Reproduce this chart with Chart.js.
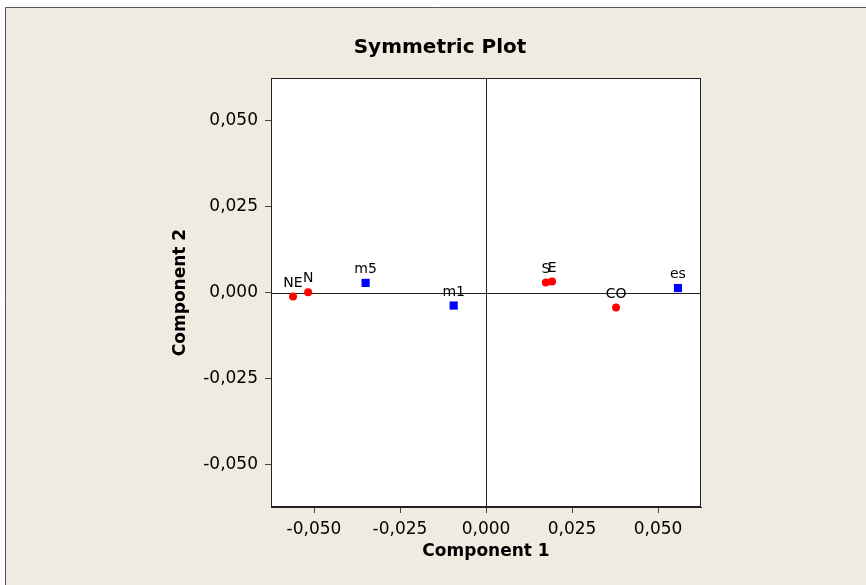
<!DOCTYPE html>
<html>
<head>
<meta charset="utf-8">
<script src="https://cdn.jsdelivr.net/npm/chart.js@4.4.1/dist/chart.umd.min.js"></script>
<style>
  html, body { margin: 0; padding: 0; background: #fff; }
  #wrap { width: 866px; height: 585px; }
</style>
</head>
<body>
<div id="wrap"><canvas id="plot" width="866" height="585"></canvas></div>
<script>
// row points (red dots)
const rowLabels = ['NE', 'N', 'S', 'E', 'CO'];
const rowX = [-0.0561, -0.0517, 0.0174, 0.0192, 0.0378];
const rowY = [-0.0012, 0.0001, 0.0029, 0.0032, -0.0044];

// column points (blue squares)
const colLabels = ['m5', 'm1', 'es'];
const colX = [-0.0350, -0.0094, 0.0558];
const colY = [0.0028, -0.0038, 0.0013];

const tickValues = [-0.050, -0.025, 0, 0.025, 0.050];
const axisMin = -0.0625;
const axisMax = 0.0625;

const FONT = "'DejaVu Sans', Verdana, sans-serif";

function toPoints(xs, ys) {
  return xs.map((x, i) => ({ x: x, y: ys[i] }));
}

function fmt(v) {
  return v.toFixed(3).replace('.', ',');
}

const framePlugin = {
  id: 'frame',
  beforeDraw(chart) {
    const ctx = chart.ctx;
    const a = chart.chartArea;
    ctx.save();
    ctx.fillStyle = '#fff';
    ctx.fillRect(0, 0, chart.width, chart.height);
    ctx.fillStyle = '#EFEBE1';
    ctx.fillRect(5, 7, chart.width, chart.height);
    ctx.strokeStyle = '#555';
    ctx.lineWidth = 1;
    ctx.beginPath();
    ctx.moveTo(5.5, chart.height);
    ctx.lineTo(5.5, 7.5);
    ctx.lineTo(chart.width, 7.5);
    ctx.stroke();
    ctx.fillStyle = '#fff';
    ctx.fillRect(a.left, a.top, a.right - a.left, a.bottom - a.top);
    ctx.fillStyle = '#000';
    ctx.font = "bold 20px " + FONT;
    ctx.textAlign = 'center';
    ctx.textBaseline = 'middle';
    ctx.fillText('Symmetric Plot', 440, 48);
    ctx.restore();
  },
  beforeDatasetsDraw(chart) {
    const ctx = chart.ctx;
    const a = chart.chartArea;
    const x0 = Math.round(chart.scales.x.getPixelForValue(0)) + 0.5;
    const y0 = Math.round(chart.scales.y.getPixelForValue(0)) + 0.5;
    ctx.save();
    ctx.strokeStyle = '#222';
    ctx.lineWidth = 1;
    ctx.beginPath();
    ctx.moveTo(x0, a.top);
    ctx.lineTo(x0, a.bottom);
    ctx.moveTo(a.left, y0);
    ctx.lineTo(a.right, y0);
    ctx.stroke();
    ctx.strokeRect(a.left + 0.5, a.top + 0.5, a.right - a.left - 1, a.bottom - a.top - 1);
    ctx.restore();
  },
  afterDatasetsDraw(chart) {
    const ctx = chart.ctx;
    ctx.save();
    ctx.fillStyle = '#000';
    ctx.font = "14px " + FONT;
    ctx.textAlign = 'center';
    ctx.textBaseline = 'alphabetic';
    chart.data.datasets.forEach((ds, i) => {
      chart.getDatasetMeta(i).data.forEach((pt, j) => {
        ctx.fillText(ds.pointLabels[j], pt.x, pt.y - 10);
      });
    });
    ctx.restore();
  }
};

const axisCommon = {
  type: 'linear',
  min: axisMin,
  max: axisMax,
  afterBuildTicks: s => { s.ticks = tickValues.map(v => ({ value: v })); },
  ticks: {
    callback: v => fmt(v),
    color: '#000',
    font: { family: FONT, size: 17 },
    padding: 6
  },
  grid: { drawOnChartArea: false, tickLength: 6, color: '#444', tickColor: '#444' },
  border: { display: true, color: '#222' }
};

new Chart(document.getElementById('plot'), {
  type: 'scatter',
  data: {
    datasets: [
      {
        label: 'Rows',
        data: toPoints(rowX, rowY),
        pointLabels: rowLabels,
        pointStyle: 'circle',
        pointRadius: 4,
        pointBorderWidth: 0,
        backgroundColor: '#FF0000',
        borderColor: '#FF0000'
      },
      {
        label: 'Columns',
        data: toPoints(colX, colY),
        pointLabels: colLabels,
        pointStyle: 'rect',
        pointRadius: 5.8,
        pointBorderWidth: 0,
        backgroundColor: '#0000FF',
        borderColor: '#0000FF'
      }
    ]
  },
  options: {
    responsive: false,
    animation: false,
    layout: { padding: { left: 166, right: 165, top: 78, bottom: 19 } },
    plugins: {
      legend: { display: false },
      tooltip: { enabled: false },
      title: { display: false }
    },
    scales: {
      x: Object.assign({}, axisCommon, {
        afterFit: s => { s.height = 59; },
        title: {
          display: true,
          text: 'Component 1',
          color: '#000',
          font: { family: FONT, size: 17, weight: 'bold' },
          padding: { top: 0, bottom: 4 }
        }
      }),
      y: Object.assign({}, axisCommon, {
        afterFit: s => { s.width = 105; },
        ticks: Object.assign({}, axisCommon.ticks, { padding: 7 }),
        title: {
          display: true,
          text: 'Component 2',
          color: '#000',
          font: { family: FONT, size: 17, weight: 'bold' },
          padding: { top: 4, bottom: 0 }
        }
      })
    }
  },
  plugins: [framePlugin]
});
</script>
</body>
</html>
